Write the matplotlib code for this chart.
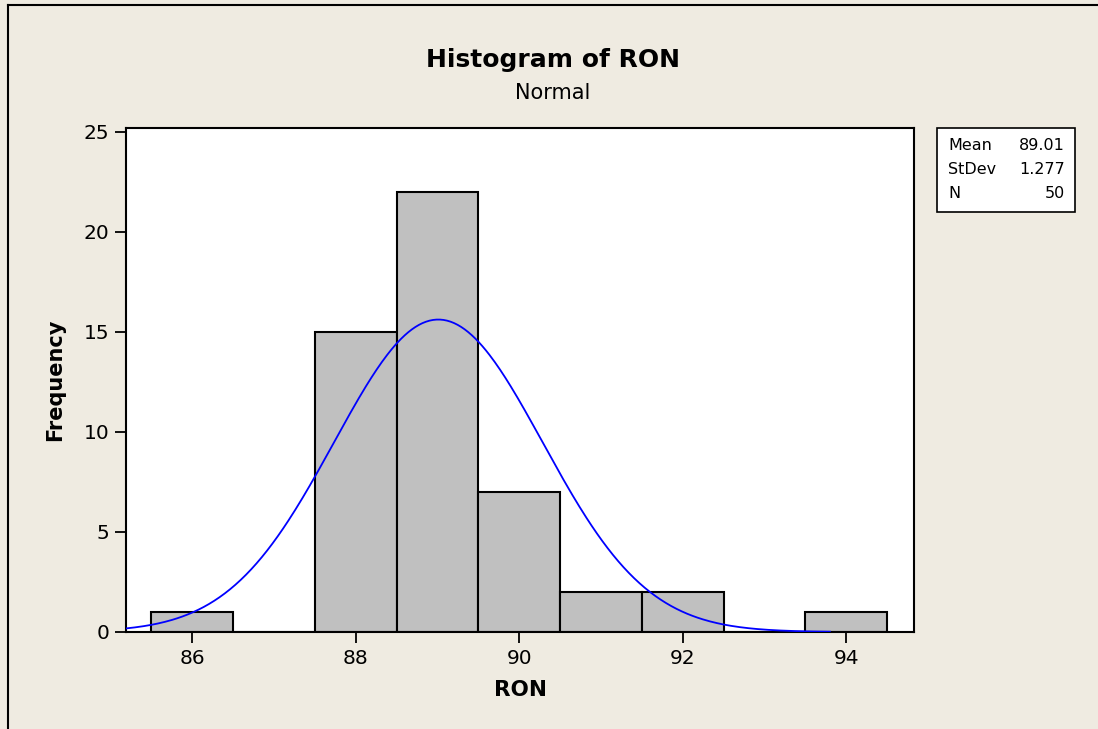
import matplotlib
matplotlib.use("Agg")
import matplotlib.pyplot as plt
import numpy as np

plt.rcParams.update({
    "font.family": ["DejaVu Sans"],
    "font.size": 12,
})

# histogram data (bin centres, width 1)
bin_centers = [86, 87, 88, 89, 90, 91, 92, 93, 94]
counts = [1, 0, 15, 22, 7, 2, 2, 0, 1]
x_ticks = [86, 88, 90, 92, 94]
y_ticks = [0, 5, 10, 15, 20, 25]

# fitted normal parameters
MEAN = 89.01
STDEV = 1.277
N = 50

BG = "#EFEBE1"
BAR = "#C0C0C0"

fig = plt.figure(figsize=(10.98, 7.29), dpi=100)
fig.patch.set_facecolor(BG)
ax = fig.add_axes([0.1148, 0.1331, 0.7177, 0.6914])
ax.set_facecolor("white")

ax.bar(bin_centers, counts, width=1.0, color=BAR, edgecolor="black", linewidth=1.5, zorder=2)

xs = np.linspace(85.19, 93.8, 400)
pdf = N * 1.0 / (STDEV * np.sqrt(2 * np.pi)) * np.exp(-0.5 * ((xs - MEAN) / STDEV) ** 2)
ax.plot(xs, pdf, color="#0000FF", linewidth=1.3, zorder=3)

ax.set_xlim(85.19, 94.83)
ax.set_ylim(0, 25.2)
ax.set_xticks(x_ticks)
ax.set_yticks(y_ticks)
ax.tick_params(direction="out", length=8, width=1.3, labelsize=14.5, pad=4)
for s in ax.spines.values():
    s.set_linewidth(1.5)

ax.set_xlabel("RON", fontsize=15.5, fontweight="bold", labelpad=9)
ax.set_ylabel("Frequency", fontsize=15, fontweight="bold", labelpad=13)

fig.text(0.5035, 0.918, "Histogram of RON", ha="center", va="center",
         fontsize=18, fontweight="bold")
fig.text(0.5035, 0.873, "Normal", ha="center", va="center", fontsize=15)

# stats box
bx0, bx1 = 937 / 1098, 1075 / 1098
by1, by0 = 1 - 128 / 729, 1 - 212 / 729
fig.patches.append(plt.Rectangle((bx0, by0), bx1 - bx0, by1 - by0, transform=fig.transFigure,
                                 facecolor="white", edgecolor="black", linewidth=1.2))
labels = ["Mean", "StDev", "N"]
vals = ["89.01", "1.277", "50"]
for i, (lab, v) in enumerate(zip(labels, vals)):
    yy = 1 - (146 + i * 23.5) / 729
    fig.text(948 / 1098, yy, lab, ha="left", va="center", fontsize=11.5)
    fig.text(1065 / 1098, yy, v, ha="right", va="center", fontsize=11.5)

# outer frame lines (left and top)
fig.add_artist(plt.Line2D([8 / 1098, 8 / 1098], [0, 1 - 5 / 729], transform=fig.transFigure,
                          color="black", linewidth=1.5))
fig.add_artist(plt.Line2D([8 / 1098, 1], [1 - 5 / 729, 1 - 5 / 729], transform=fig.transFigure,
                          color="black", linewidth=1.5))

fig.savefig("out.png", dpi=100, facecolor=BG)
